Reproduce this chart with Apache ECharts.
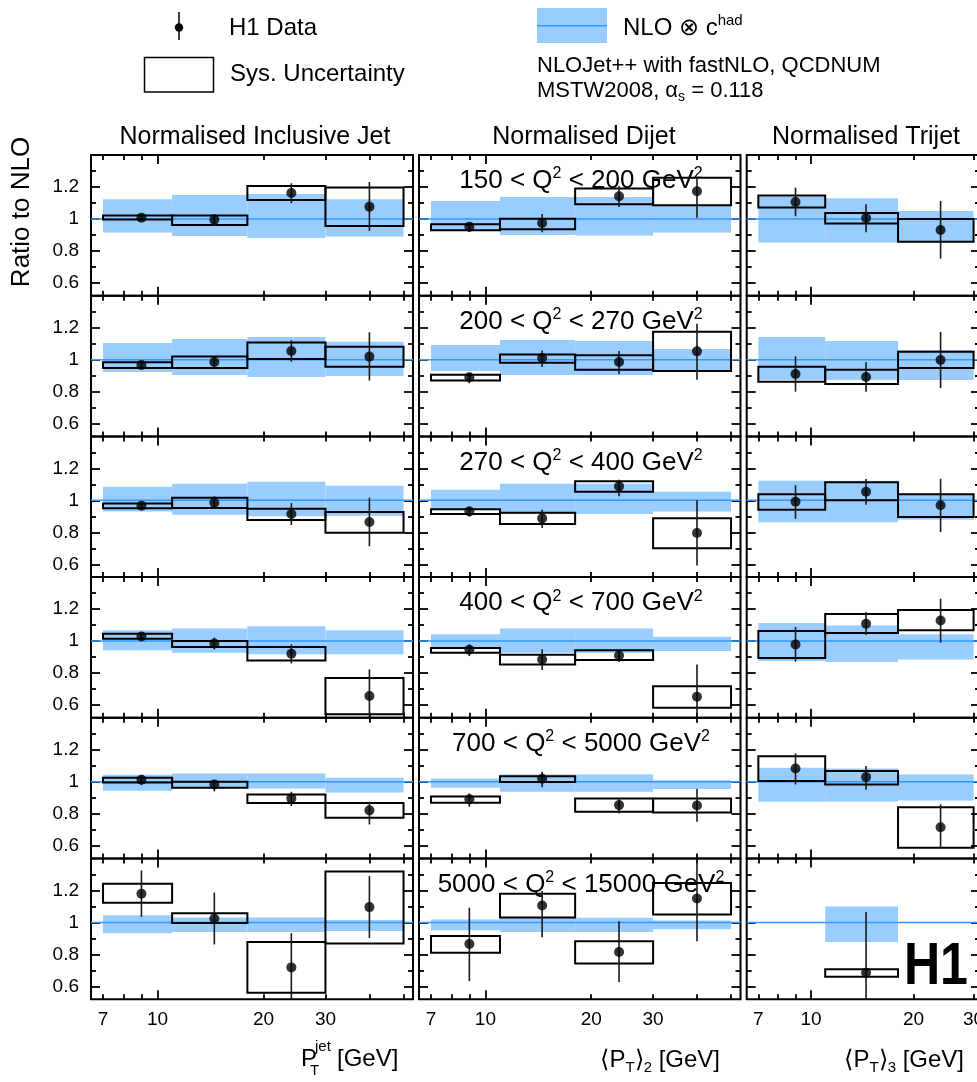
<!DOCTYPE html>
<html><head><meta charset="utf-8">
<script src="https://cdn.jsdelivr.net/npm/echarts@6/dist/echarts.min.js"></script>
<style>html,body{margin:0;padding:0;background:#fff}#c{width:977px;height:1082px}</style>
</head><body><div id="c"></div>
<script>
const FONT = '"Liberation Sans", Arial, Helvetica, sans-serif';

// ---------------- data ----------------
const panelTitles = ['Normalised Inclusive Jet', 'Normalised Dijet', 'Normalised Trijet'];
const q2Ranges = [['150', '200'], ['200', '270'], ['270', '400'], ['400', '700'], ['700', '5000'], ['5000', '15000']];
const xTickLabels = [7, 10, 20, 30];
const xMajorTicks = [10];
const xMinorTicks = [7, 8, 9, 20, 30, 40, 50];
const yTickLabels = [0.6, 0.8, 1, 1.2];
const yMinorTicks = [0.7, 0.9, 1.1, 1.3];
const jetBinEdges = [7, 11, 18, 30, 50];
const trijetBinEdges = [7, 11, 18, 30];
const jetPointX = [9, 14.5, 24, 40];
const trijetPointX = [9, 14.5, 24];

// Inclusive jet (rows: Q2 bins, columns: PT bins)
const inclNloLo = [[0.915, 0.894, 0.881, 0.89], [0.923, 0.904, 0.892, 0.898], [0.931, 0.91, 0.9, 0.904], [0.942, 0.927, 0.917, 0.917], [0.944, 0.958, 0.958, 0.933], [0.933, 0.94, 0.94, 0.946]];
const inclNloHi = [[1.123, 1.15, 1.156, 1.123], [1.104, 1.129, 1.142, 1.1125], [1.085, 1.104, 1.117, 1.092], [1.067, 1.079, 1.092, 1.067], [1.044, 1.052, 1.052, 1.025], [1.045, 1.031, 1.031, 1.015]];
const inclSysLo = [[0.996, 0.9625, 1.119, 0.956], [0.948, 0.948, 1.004, 0.956], [0.95, 0.952, 0.877, 0.798], [1.015, 0.9625, 0.879, 0.542], [0.996, 0.9625, 0.867, 0.775], [1.123, 0.996, 0.56, 0.869]];
const inclSysHi = [[1.021, 1.021, 1.206, 1.196], [0.983, 1.019, 1.108, 1.081], [0.981, 1.017, 0.948, 0.927], [1.046, 1.0, 0.9625, 0.769], [1.025, 1.0, 0.921, 0.867], [1.242, 1.058, 0.877, 1.319]];
const inclVal = [[1.008, 0.996, 1.1625, 1.077], [0.967, 0.985, 1.054, 1.019], [0.967, 0.985, 0.915, 0.865], [1.029, 0.985, 0.921, 0.656], [1.0125, 0.983, 0.896, 0.821], [1.179, 1.025, 0.719, 1.096]];
const inclErrLo = [[0.99, 0.956, 1.098, 0.925], [0.952, 0.952, 0.9875, 0.869], [0.95, 0.946, 0.846, 0.713], [1.006, 0.948, 0.86, 0.5], [0.979, 0.94, 0.848, 0.733], [1.035, 0.8625, 0.5, 0.902]];
const inclErrHi = [[1.023, 1.031, 1.223, 1.231], [0.985, 1.019, 1.121, 1.171], [0.983, 1.025, 0.983, 1.017], [1.052, 1.021, 0.979, 0.823], [1.0375, 1.01, 0.9375, 0.875], [1.325, 1.1875, 0.933, 1.29]];

// Dijet
const dijNloLo = [[0.925, 0.9, 0.896, 0.915], [0.929, 0.904, 0.904, 0.929], [0.942, 0.915, 0.915, 0.931], [0.952, 0.927, 0.927, 0.9375], [0.9625, 0.9375, 0.9375, 0.954], [0.952, 0.94, 0.94, 0.958]];
const dijNloHi = [[1.1125, 1.1375, 1.1375, 1.085], [1.092, 1.123, 1.117, 1.067], [1.067, 1.104, 1.104, 1.054], [1.042, 1.079, 1.079, 1.027], [1.021, 1.046, 1.046, 1.01], [1.019, 1.029, 1.029, 1.012]];
const dijSysLo = [[0.929, 0.935, 1.092, 1.085], [0.869, 0.981, 0.9375, 0.929], [0.915, 0.852, 1.054, 0.7], [0.927, 0.854, 0.881, 0.583], [0.869, 0.998, 0.8125, 0.808], [0.81, 1.031, 0.744, 1.05]];
const dijSysHi = [[0.967, 1.002, 1.19, 1.258], [0.906, 1.033, 1.027, 1.175], [0.944, 0.923, 1.119, 0.8875], [0.956, 0.915, 0.942, 0.717], [0.908, 1.035, 0.896, 0.896], [0.915, 1.179, 0.883, 1.246]];
const dijVal = [[0.952, 0.975, 1.142, 1.173], [0.89, 1.01, 0.985, 1.052], [0.931, 0.8875, 1.0875, 0.796], [0.946, 0.885, 0.91, 0.652], [0.89, 1.019, 0.854, 0.852], [0.865, 1.106, 0.815, 1.15]];
const dijErrLo = [[0.919, 0.917, 1.075, 1.008], [0.852, 0.954, 0.908, 0.875], [0.9, 0.827, 1.025, 0.592], [0.906, 0.819, 0.869, 0.53], [0.844, 0.965, 0.802, 0.75], [0.633, 0.908, 0.627, 0.883]];
const dijErrHi = [[0.973, 1.031, 1.206, 1.254], [0.915, 1.058, 1.054, 1.225], [0.9625, 0.942, 1.129, 1.0], [0.979, 0.948, 0.948, 0.854], [0.927, 1.0625, 0.896, 0.954], [1.092, 1.196, 1.008, 1.45]];

// Trijet
const trijNloLo = [[0.852, 0.852, 0.858], [0.873, 0.873, 0.873], [0.8625, 0.8625, 0.879], [0.875, 0.869, 0.885], [0.875, 0.877, 0.883], [null, 0.877, null]];
const trijNloHi = [[1.14, 1.129, 1.05], [1.142, 1.117, 1.06], [1.123, 1.123, 1.0375], [1.1125, 1.098, 1.042], [1.0875, 1.083, 1.046], [null, 1.1, null]];
const trijSysLo = [[1.071, 0.971, 0.858], [0.8625, 0.848, 0.948], [0.942, 1.0, 0.896], [0.894, 1.05, 1.067], [1.004, 0.983, 0.5875], [null, 0.66, null]];
const trijSysHi = [[1.146, 1.0375, 1.0], [0.956, 0.9375, 1.05], [1.0375, 1.1125, 1.0375], [1.0625, 1.169, 1.194], [1.16, 1.067, 0.84], [null, 0.708, null]];
const trijVal = [[1.106, 1.006, 0.931], [0.91, 0.892, 0.998], [0.992, 1.054, 0.969], [0.979, 1.108, 1.129], [1.083, 1.029, 0.715], [null, 0.685, null]];
const trijErrLo = [[1.017, 0.917, 0.752], [0.8, 0.8, 0.823], [0.885, 0.973, 0.802], [0.871, 1.0375, 0.99], [0.983, 0.95, 0.592], [null, 0.5, null]];
const trijErrHi = [[1.196, 1.092, 1.1125], [1.021, 0.983, 1.173], [1.094, 1.133, 1.135], [1.0875, 1.181, 1.265], [1.177, 1.098, 0.858], [null, 1.065, null]];

// ---------------- layout ----------------
const ROW_TOP = 155, ROW_H = 140.7, NROWS = 6;
const Y_MIN = 0.52, Y_MAX = 1.4;
const BAND_COLOR = '#99ccff', LINE_COLOR = '#3399ff';
const cols = [
  {left: 91, width: 322, xmin: 6.47, xmax: 53.2, edges: jetBinEdges, px: jetPointX,
   nloLo: inclNloLo, nloHi: inclNloHi, sysLo: inclSysLo, sysHi: inclSysHi, val: inclVal, errLo: inclErrLo, errHi: inclErrHi},
  {left: 419, width: 321.5, xmin: 6.47, xmax: 53.2, edges: jetBinEdges, px: jetPointX,
   nloLo: dijNloLo, nloHi: dijNloHi, sysLo: dijSysLo, sysHi: dijSysHi, val: dijVal, errLo: dijErrLo, errHi: dijErrHi},
  {left: 746.7, width: 233.3, xmin: 6.47, xmax: 31.33, edges: trijetBinEdges, px: trijetPointX,
   nloLo: trijNloLo, nloHi: trijNloHi, sysLo: trijSysLo, sysHi: trijSysHi, val: trijVal, errLo: trijErrLo, errHi: trijErrHi}
];

function inRange(arr, lo, hi) { return arr.filter(v => v >= lo && v <= hi); }

function rectRender(fill, stroke, lw) {
  return function (params, api) {
    const cs = params.coordSys;
    const a = api.coord([api.value(0), api.value(3)]);
    const b = api.coord([api.value(1), api.value(2)]);
    const y1 = Math.max(cs.y, a[1]);
    const y2 = Math.min(cs.y + cs.height, b[1]);
    return {type: 'rect', shape: {x: a[0], y: y1, width: b[0] - a[0], height: y2 - y1},
      style: {fill: fill, stroke: stroke, lineWidth: lw}};
  };
}
function errRender(params, api) {
  const cs = params.coordSys;
  const a = api.coord([api.value(0), api.value(2)]);
  const b = api.coord([api.value(0), api.value(1)]);
  const y1 = Math.max(cs.y, a[1]);
  const y2 = Math.min(cs.y + cs.height, b[1]);
  return {type: 'line', shape: {x1: a[0], y1: y1, x2: a[0], y2: y2}, style: {stroke: '#1a1a1a', lineWidth: 1.6}};
}

const grids = [], xAxes = [], yAxes = [], series = [];
let g = 0;
for (let r = 0; r < NROWS; r++) {
  for (let c = 0; c < 3; c++) {
    const L = cols[c];
    grids.push({left: L.left, top: ROW_TOP + r * ROW_H, width: L.width, height: ROW_H,
      show: true, borderColor: '#000', borderWidth: 2, backgroundColor: 'transparent',
      containLabel: false, outerBoundsMode: 'none'});
    const xBase = {type: 'log', logBase: 10, gridIndex: g, min: L.xmin, max: L.xmax,
      axisLine: {show: false}, splitLine: {show: false}, axisPointer: {show: false}};
    const mkX = (pos, ticks, len, labels) => Object.assign({}, xBase, {
      position: pos,
      axisTick: {show: true, inside: true, length: len, customValues: inRange(ticks, L.xmin, L.xmax), lineStyle: {color: '#000', width: 1.8}},
      axisLabel: labels ? {show: true, customValues: inRange(labels, L.xmin, L.xmax), margin: 11, color: '#000', fontSize: 19, fontFamily: FONT,
        formatter: v => String(Math.round(v))} : {show: false}
    });
    xAxes.push(mkX('bottom', xMajorTicks, 9, r === NROWS - 1 ? xTickLabels : null));
    xAxes.push(mkX('bottom', xMinorTicks, 5, null));
    xAxes.push(mkX('top', xMajorTicks, 9, null));
    xAxes.push(mkX('top', xMinorTicks, 5, null));
    const yBase = {type: 'value', gridIndex: g, min: Y_MIN, max: Y_MAX,
      axisLine: {show: false}, splitLine: {show: false}, axisPointer: {show: false}};
    const mkY = (pos, ticks, len, labels) => Object.assign({}, yBase, {
      position: pos,
      axisTick: {show: true, inside: true, length: len, customValues: ticks, lineStyle: {color: '#000', width: 1.8}},
      axisLabel: labels ? {show: true, customValues: labels, margin: 12, color: '#000', fontSize: 19, fontFamily: FONT,
        formatter: v => (Math.abs(v - 1) < 1e-9 ? '1' : v.toFixed(1))} : {show: false}
    });
    yAxes.push(mkY('left', yTickLabels, 9, c === 0 ? yTickLabels : null));
    yAxes.push(mkY('left', yMinorTicks, 5, null));
    yAxes.push(mkY('right', yTickLabels, 9, null));
    yAxes.push(mkY('right', yMinorTicks, 5, null));

    const xi = 4 * g, yi = 4 * g;
    const band = [], sys = [], err = [], pts = [];
    for (let b = 0; b < L.px.length; b++) {
      if (L.nloLo[r][b] != null) band.push([L.edges[b], L.edges[b + 1], L.nloLo[r][b], L.nloHi[r][b]]);
      if (L.sysLo[r][b] != null) sys.push([L.edges[b], L.edges[b + 1], L.sysLo[r][b], L.sysHi[r][b]]);
      if (L.val[r][b] != null) {
        err.push([L.px[b], L.errLo[r][b], L.errHi[r][b]]);
        pts.push([L.px[b], L.val[r][b]]);
      }
    }
    series.push({type: 'custom', xAxisIndex: xi, yAxisIndex: yi, z: 2, silent: true,
      renderItem: rectRender(BAND_COLOR, null, 0), encode: {x: [0, 1], y: [2, 3]}, data: band});
    series.push({type: 'line', xAxisIndex: xi, yAxisIndex: yi, z: 3, silent: true, symbol: 'none',
      lineStyle: {color: LINE_COLOR, width: 1.5}, data: [[L.xmin, 1], [L.xmax, 1]], animation: false});
    series.push({type: 'custom', xAxisIndex: xi, yAxisIndex: yi, z: 4, silent: true,
      renderItem: rectRender(null, '#000', 2), encode: {x: [0, 1], y: [2, 3]}, data: sys});
    series.push({type: 'custom', xAxisIndex: xi, yAxisIndex: yi, z: 5, silent: true,
      renderItem: errRender, encode: {x: 0, y: [1, 2]}, data: err});
    series.push({type: 'scatter', xAxisIndex: xi, yAxisIndex: yi, z: 6, silent: true,
      symbol: 'circle', symbolSize: 10, itemStyle: {color: '#000'}, data: pts});
    g++;
  }
}

// ---------------- texts & legend ----------------
function txt(text, x, y, size, opts) {
  opts = opts || {};
  return Object.assign({type: 'text', x: x, y: y, z: 50, silent: true,
    style: Object.assign({text: text, fill: '#000', fontSize: size, fontFamily: FONT,
      align: opts.align || 'left', verticalAlign: 'middle',
      textAlign: opts.align || 'left', textVerticalAlign: 'middle'}, opts.style || {})},
    opts.el || {});
}
const graphics = [];
// column titles
const titleX = [255, 584, 866];
panelTitles.forEach((t, i) => graphics.push(txt(t, titleX[i], 137, 25, {align: 'center'})));
// Q2 labels
q2Ranges.forEach((q, r) => {
  graphics.push(txt('{t|' + q[0] + ' < Q}{s|2}{t| < ' + q[1] + ' GeV}{s|2}', 581, ROW_TOP + r * ROW_H + 26, 26, {
    align: 'center',
    style: {rich: {t: {fontSize: 26, fontFamily: FONT, lineHeight: 30, fill: '#000'},
                   s: {fontSize: 16, fontFamily: FONT, lineHeight: 18, verticalAlign: 'top', fill: '#000'}}}
  }));
});
// y axis title
graphics.push(txt('Ratio to NLO', 22, 212, 26, {align: 'center', el: {rotation: Math.PI / 2}}));
// x axis titles
graphics.push(txt('P', 301, 1059, 24));
graphics.push(txt('jet', 315, 1047, 15));
graphics.push(txt('T', 310, 1071, 15));
graphics.push(txt('[GeV]', 337, 1059, 24));
const subRich = {t: {fontSize: 24, fontFamily: FONT, lineHeight: 30, fill: '#000'},
                 s: {fontSize: 15, fontFamily: FONT, lineHeight: 16, verticalAlign: 'bottom', fill: '#000'}};
graphics.push(txt('{t|\u27E8P}{s|T}{t|\u27E9}{s|2}{t| [GeV]}', 720, 1060, 24, {align: 'right', style: {rich: subRich}}));
graphics.push(txt('{t|\u27E8P}{s|T}{t|\u27E9}{s|3}{t| [GeV]}', 964, 1060, 24, {align: 'right', style: {rich: subRich}}));
// H1 logo
graphics.push({type: 'text', x: 968, y: 968, scaleX: 0.85, z: 50, silent: true,
  style: {text: 'H1', fill: '#000', fontSize: 59, fontWeight: 'bold', fontFamily: FONT,
    align: 'right', verticalAlign: 'middle', textAlign: 'right', textVerticalAlign: 'middle'}});
// legend: H1 data
graphics.push({type: 'line', z: 50, silent: true, shape: {x1: 179, y1: 12, x2: 179, y2: 40}, style: {stroke: '#000', lineWidth: 1.5}});
graphics.push({type: 'circle', z: 51, silent: true, shape: {cx: 179, cy: 27.5, r: 4.2}, style: {fill: '#000'}});
graphics.push(txt('H1 Data', 229, 28, 24));
// legend: sys
graphics.push({type: 'rect', z: 50, silent: true, shape: {x: 144.5, y: 57.5, width: 69, height: 34.5}, style: {fill: null, stroke: '#000', lineWidth: 1.5}});
graphics.push(txt('Sys. Uncertainty', 230, 74, 24));
// legend: NLO
graphics.push({type: 'rect', z: 50, silent: true, shape: {x: 537, y: 8, width: 70, height: 35}, style: {fill: BAND_COLOR}});
graphics.push({type: 'line', z: 51, silent: true, shape: {x1: 537, y1: 25.7, x2: 607, y2: 25.7}, style: {stroke: LINE_COLOR, lineWidth: 1.5}});
graphics.push(txt('{t|NLO \u2297 c}{s|had}', 623, 28, 24, {
  style: {rich: {t: {fontSize: 24, fontFamily: FONT, lineHeight: 30, fill: '#000'},
                 s: {fontSize: 15, fontFamily: FONT, lineHeight: 16, verticalAlign: 'top', fill: '#000'}}}}));
graphics.push(txt('NLOJet++ with fastNLO, QCDNUM', 537, 66, 22));
graphics.push(txt('{t|MSTW2008, \u03B1}{s|s}{t| = 0.118}', 537, 91, 22, {
  style: {rich: {t: {fontSize: 22, fontFamily: FONT, lineHeight: 26, fill: '#000'},
                 s: {fontSize: 14, fontFamily: FONT, lineHeight: 14, verticalAlign: 'bottom', fill: '#000'}}}}));

const chart = echarts.init(document.getElementById('c'), null, {renderer: 'canvas', width: 977, height: 1082});
chart.setOption({
  animation: false,
  backgroundColor: '#fff',
  grid: grids,
  xAxis: xAxes,
  yAxis: yAxes,
  series: series,
  graphic: {elements: graphics}
});
</script></body></html>
